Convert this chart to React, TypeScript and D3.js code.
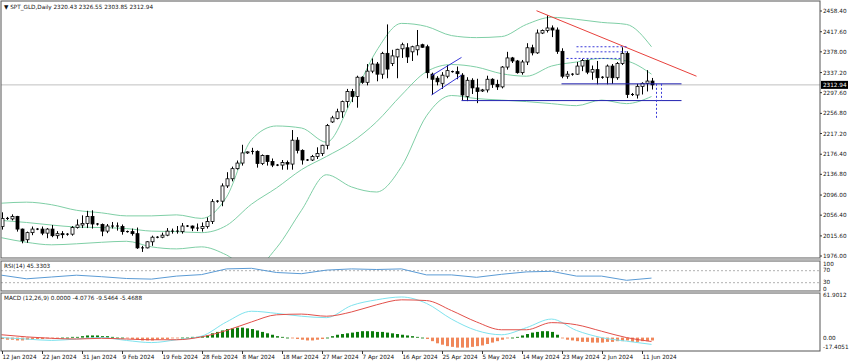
import React from 'react';
import * as d3 from 'd3';

const titleText = 'SPT_GLD,Daily  2320.43 2326.55 2303.85 2312.94';
const rsiTitle = 'RSI(14) 45.3303';
const macdTitle = 'MACD (12,26,9) 0.0000 -4.0776 -9.5464 -5.4688';

const dateLabels = ['12 Jan 2024','22 Jan 2024','31 Jan 2024','9 Feb 2024','19 Feb 2024','28 Feb 2024','8 Mar 2024','18 Mar 2024','27 Mar 2024','7 Apr 2024','16 Apr 2024','25 Apr 2024','5 May 2024','14 May 2024','23 May 2024','2 Jun 2024','11 Jun 2024'];
const dateLabelBars = [0,8,16,24,32,40,48,56,64,72,80,88,96,104,112,120,128];

const priceTicks = [2458.40,2417.60,2378.00,2337.20,2297.60,2256.80,2217.20,2176.40,2136.80,2096.00,2056.40,2015.60,1976.00];
const lastPrice = 2312.94;

const opens = [2034,2050,2049,2054,2029,2008,2022,2029,2029,2021,2029,2016,2020,2018,2019,2032,2037,2040,2054,2039,2038,2025,2035,2035,2034,2024,2024,2020,1992,1992,2004,2013,2013,2017,2025,2025,2024,2035,2035,2031,2030,2034,2044,2083,2084,2114,2128,2148,2159,2179,2181,2182,2158,2174,2162,2155,2155,2160,2157,2204,2184,2165,2165,2172,2178,2194,2240,2247,2260,2280,2300,2290,2328,2318,2340,2354,2334,2375,2355,2368,2384,2386,2378,2382,2392,2388,2334,2326,2316,2330,2339,2339,2332,2290,2322,2307,2301,2303,2324,2314,2309,2348,2366,2360,2337,2358,2386,2376,2415,2420,2425,2421,2379,2330,2334,2334,2350,2361,2338,2343,2327,2328,2350,2327,2355,2375,2294,2293,2310,2316,2320.43];
const highs = [2062,2053,2058,2055,2030,2024,2034,2031,2034,2031,2037,2025,2025,2021,2035,2048,2056,2065,2066,2041,2040,2039,2043,2042,2038,2026,2030,2032,1996,2005,2016,2015,2022,2031,2030,2035,2041,2037,2036,2040,2042,2052,2088,2086,2119,2141,2152,2164,2195,2182,2189,2184,2176,2175,2168,2157,2165,2164,2224,2210,2186,2167,2175,2190,2195,2236,2252,2266,2282,2305,2305,2331,2330,2354,2365,2358,2378,2432,2382,2384,2396,2395,2390,2421,2394,2392,2337,2330,2338,2352,2341,2349,2336,2328,2326,2325,2305,2331,2326,2323,2350,2378,2368,2362,2362,2395,2392,2422,2422,2450,2430,2426,2385,2340,2336,2358,2364,2363,2351,2360,2330,2353,2354,2358,2387,2379,2297,2315,2318,2342,2326.55];
const lows = [2028,2047,2046,2024,2001,2002,2017,2027,2017,2011,2013,2010,2011,2016,2016,2030,2031,2031,2030,2036,2015,2021,2030,2026,2018,2022,2016,1990,1984,1991,1996,2011,2011,2015,2020,2020,2020,2033,2025,2025,2024,2030,2039,2081,2074,2110,2123,2146,2154,2177,2176,2150,2155,2154,2151,2153,2146,2146,2146,2178,2156,2163,2163,2167,2173,2186,2238,2245,2248,2268,2279,2268,2315,2312,2336,2320,2325,2326,2350,2326,2366,2356,2360,2371,2386,2326,2293,2312,2305,2326,2337,2324,2283,2281,2295,2277,2299,2298,2307,2303,2306,2343,2356,2335,2333,2352,2371,2374,2413,2416,2407,2374,2326,2325,2331,2333,2340,2334,2323,2314,2325,2314,2315,2323,2352,2287,2291,2286,2294,2300,2303.85];
const closes = [2050,2049,2054,2029,2006,2022,2029,2029,2021,2029,2016,2020,2018,2019,2032,2037,2040,2054,2039,2038,2025,2035,2035,2034,2024,2024,2020,1992,1992,2004,2013,2013,2017,2025,2025,2024,2035,2035,2031,2030,2034,2044,2083,2084,2114,2128,2148,2159,2179,2181,2182,2158,2174,2162,2155,2155,2160,2157,2204,2184,2165,2165,2172,2178,2194,2233,2248,2260,2280,2300,2290,2328,2318,2340,2354,2334,2375,2344,2370,2383,2392,2368,2388,2390,2387,2337,2324,2319,2332,2341,2339,2335,2293,2322,2307,2300,2303,2324,2314,2309,2348,2366,2360,2337,2358,2386,2376,2415,2420,2425,2421,2379,2330,2334,2334,2350,2361,2338,2343,2327,2328,2350,2327,2355,2375,2294,2293,2310,2316,2320.43,2312.94];

// indicator lines read at every 5th bar
const sampleBars = [0,5,10,15,20,25,30,35,40,45,50,55,60,65,70,75,80,85,90,95,100,105,110,115,120,125,130];
const bbUpper = [2080,2082,2077,2066,2061,2055,2055,2057,2050,2092,2205,2232,2228,2200,2282,2380,2434,2428,2410,2406,2408,2432,2446,2442,2436,2432,2388];
const bbMiddle = [2046,2042,2037,2033,2032,2030,2025,2024,2022,2036,2078,2110,2146,2172,2200,2240,2293,2339,2353,2348,2335,2330,2350,2358,2365,2360,2334];
const bbLower = [2012,2003,1998,2000,2003,2005,1994,1990,1994,1978,1948,1992,2066,2136,2112,2102,2152,2252,2292,2286,2283,2280,2276,2272,2283,2276,2290];
const rsiValues = [55,43,49,55,50,44,42,52,57,76,78,64,60,72,76,74,76,56,56,48,58,66,68,52,52,38,45.33];
const macdMain = [0,-2,-4,-2,0,-4,-7,-3,2,22,37,34,30,28,45,53,57,48,26,10,4,14,26,10,0,-5,-9.55];
const macdSignal = [4,1,-1,-2,-1,-2,-3,-3,1,10,22,32,33,30,36,46,53,52,38,22,11,11,21,18,9,0,-5.47];
const macdHist = [-2,-3,-3,-4,-4,-3,-3,-2,-2,-1,-1,-1,0,0,1,1,2,3,3,3,2,2,1,0,0,-1,-2,-3,-4,-4,-4,-3,-2,-2,-1,-1,0,0,1,1,2,3,6,8,10,12,13,14,14,13,12,10,8,6,4,2,1,0,-1,-2,-3,-4,-4,-3,-2,0,2,4,5,6,7,8,9,9,9,8,8,7,6,5,4,3,2,1,0,-2,-5,-8,-10,-12,-13,-14,-14,-14,-13,-12,-11,-9,-7,-5,-3,-1,0,1,3,5,7,8,9,9,8,4,-1,-3,-4,-5,-6,-6,-7,-7,-7,-6,-6,-5,-5,-4,-6,-6,-5,-5,-4.08];

// drawn objects (bar index, price)
const redTrend = [[107, 2459], [139, 2330]];
const flagLines = [[[86, 2293], [92, 2332]], [[86, 2331], [92, 2367]]];
const supportLevels = [[92, 136, 2282], [112, 136, 2315]];
const dashedLevels = [[115, 125, 2388], [115, 125, 2378], [113, 124, 2365]];
const dashedVerticals = [[131, 2315, 2246], [132, 2315, 2282]];

const W = 850, H = 364;
const L = 1, R = 820;
const MAIN_T = 1, MAIN_B = 258;
const RSI_T = 261, RSI_B = 291;
const MACD_T = 293, MACD_B = 351;
const FONT = 'Tahoma, "DejaVu Sans", sans-serif';

export default function App() {
  const x = d3.scaleLinear().domain([0, 1]).range([1.5, 6.5]);
  const y = d3.scaleLinear().domain([1976, 2458.4]).range([256, 11]);
  const yR = d3.scaleLinear().domain([0, 100]).range([291.7, 261.7]);
  const yM = d3.scaleLinear().domain([-17.4051, 61.9012]).range([350, 293.5]);

  const bbLine = (vals: number[]) =>
    d3.line<number>().x((_, i) => x(sampleBars[i])).y(v => y(v)).curve(d3.curveMonotoneX)(vals) || '';
  const rsiPath = d3.line<number>().x((_, i) => x(sampleBars[i])).y(v => yR(v)).curve(d3.curveLinear)(rsiValues) || '';
  const macdPath = (vals: number[]) =>
    d3.line<number>().x((_, i) => x(sampleBars[i])).y(v => yM(v)).curve(d3.curveMonotoneX)(vals) || '';

  const txt = { fontFamily: FONT, fontSize: 5.7, fill: '#111' } as const;

  return (
    <svg width={W} height={H} style={{ position: 'fixed', left: 0, top: 0, background: '#fff' }}>
      <defs>
        <clipPath id="mainClip"><rect x={L} y={MAIN_T} width={R - L} height={MAIN_B - MAIN_T} /></clipPath>
        <clipPath id="rsiClip"><rect x={L} y={RSI_T} width={R - L} height={RSI_B - RSI_T} /></clipPath>
        <clipPath id="macdClip"><rect x={L} y={MACD_T} width={R - L} height={MACD_B - MACD_T} /></clipPath>
      </defs>
      <rect x={0} y={0} width={W} height={H} fill="#fff" />

      {/* main panel */}
      <g clipPath="url(#mainClip)">
        <line x1={L} x2={R} y1={y(lastPrice)} y2={y(lastPrice)} stroke="#c0c0c0" strokeWidth={1} />
        {[bbUpper, bbMiddle, bbLower].map((b, k) => (
          <path key={k} d={bbLine(b)} fill="none" stroke="#7fcfa6" strokeWidth={1} />
        ))}
        {opens.map((o, i) => {
          const c = closes[i];
          const cx = Math.round(x(i)) + 0.5;
          const top = y(Math.max(o, c));
          const bot = y(Math.min(o, c));
          const bull = c >= o;
          return (
            <g key={i}>
              <line x1={cx} x2={cx} y1={y(highs[i])} y2={y(lows[i])} stroke="#000" strokeWidth={1} />
              {bot - top < 1 ? (
                <line x1={cx - 1.5} x2={cx + 1.5} y1={top} y2={top} stroke="#000" strokeWidth={1} />
              ) : (
                <rect x={cx - 1.5} y={top} width={3} height={bot - top} fill={bull ? '#fff' : '#000'} stroke="#000" strokeWidth={0.8} />
              )}
            </g>
          );
        })}
        <line x1={x(redTrend[0][0])} y1={y(redTrend[0][1])} x2={x(redTrend[1][0])} y2={y(redTrend[1][1])} stroke="#e8413c" strokeWidth={1} />
        {flagLines.map((ln, k) => (
          <line key={k} x1={x(ln[0][0])} y1={y(ln[0][1])} x2={x(ln[1][0])} y2={y(ln[1][1])} stroke="#3a3ad8" strokeWidth={1} />
        ))}
        {supportLevels.map((s, k) => (
          <line key={k} x1={x(s[0])} x2={x(s[1])} y1={y(s[2])} y2={y(s[2])} stroke="#2222b0" strokeWidth={1} />
        ))}
        {dashedLevels.map((s, k) => (
          <line key={k} x1={x(s[0])} x2={x(s[1])} y1={y(s[2])} y2={y(s[2])} stroke="#3a3ad8" strokeWidth={1} strokeDasharray="2,2" />
        ))}
        {dashedVerticals.map((s, k) => (
          <line key={k} x1={x(s[0])} x2={x(s[0])} y1={y(s[1])} y2={y(s[2])} stroke="#3a3ad8" strokeWidth={1} strokeDasharray="2,2" />
        ))}
      </g>

      {/* RSI */}
      <g clipPath="url(#rsiClip)">
        <line x1={L} x2={R} y1={yR(70)} y2={yR(70)} stroke="#b0b0b0" strokeDasharray="2,2" />
        <line x1={L} x2={R} y1={yR(30)} y2={yR(30)} stroke="#b0b0b0" strokeDasharray="2,2" />
        <path d={rsiPath} fill="none" stroke="#5b9bd5" strokeWidth={1} />
      </g>

      {/* MACD */}
      <g clipPath="url(#macdClip)">
        {macdHist.map((v, i) => (
          <rect key={i} x={Math.round(x(i)) - 1} width={3}
            y={Math.min(yM(v), yM(0))} height={Math.max(0.8, Math.abs(yM(v) - yM(0)))}
            fill={v >= 0 ? '#0a7a0a' : '#f0875a'} />
        ))}
        <path d={macdPath(macdMain)} fill="none" stroke="#7fe3ee" strokeWidth={1} />
        <path d={macdPath(macdSignal)} fill="none" stroke="#e2504a" strokeWidth={1} />
      </g>

      {/* frames */}
      <rect x={L} y={MAIN_T} width={R - L} height={MAIN_B - MAIN_T} fill="none" stroke="#555" strokeWidth={1} />
      <rect x={L} y={RSI_T} width={R - L} height={RSI_B - RSI_T} fill="none" stroke="#555" strokeWidth={1} />
      <rect x={L} y={MACD_T} width={R - L} height={MACD_B - MACD_T} fill="none" stroke="#555" strokeWidth={1} />
      <rect x={0} y={MAIN_B + 0.5} width={R + 1} height={RSI_T - MAIN_B - 1} fill="#b8b8b8" />
      <rect x={0} y={RSI_B + 0.5} width={R + 1} height={MACD_T - RSI_B - 1} fill="#b8b8b8" />

      {/* titles */}
      <text x={4} y={9} {...txt}>{'\u25BC ' + titleText}</text>
      <text x={4} y={268} {...txt}>{rsiTitle}</text>
      <text x={4} y={300} {...txt}>{macdTitle}</text>

      {/* price axis */}
      {priceTicks.map((p, k) => (
        <g key={k}>
          <line x1={R} x2={R + 2} y1={y(p)} y2={y(p)} stroke="#333" />
          <text x={R + 3} y={y(p) + 2} {...txt}>{p.toFixed(2)}</text>
        </g>
      ))}
      <rect x={R + 1} y={y(lastPrice) - 4} width={27} height={8} fill="#000" />
      <text x={R + 3} y={y(lastPrice) + 2} {...txt} fill="#fff">{lastPrice.toFixed(2)}</text>

      {/* rsi axis */}
      {[[100, 263.5], [70, 270], [30, 282], [0, 289]].map(([v, ty], k) => (
        <text key={k} x={R + 3} y={ty + 2} {...txt}>{String(v)}</text>
      ))}
      {/* macd axis */}
      <text x={R + 3} y={297} {...txt}>61.9012</text>
      <text x={R + 3} y={yM(0) + 2} {...txt}>0.00</text>
      <text x={R + 3} y={348.5} {...txt}>-17.4051</text>

      {/* time axis */}
      {dateLabels.map((d, k) => (
        <g key={k}>
          <line x1={Math.round(x(dateLabelBars[k])) + 0.5} x2={Math.round(x(dateLabelBars[k])) + 0.5} y1={MACD_B} y2={MACD_B + 3} stroke="#333" />
          <text x={x(dateLabelBars[k]) + 1} y={359} {...txt}>{d}</text>
        </g>
      ))}
    </svg>
  );
}
